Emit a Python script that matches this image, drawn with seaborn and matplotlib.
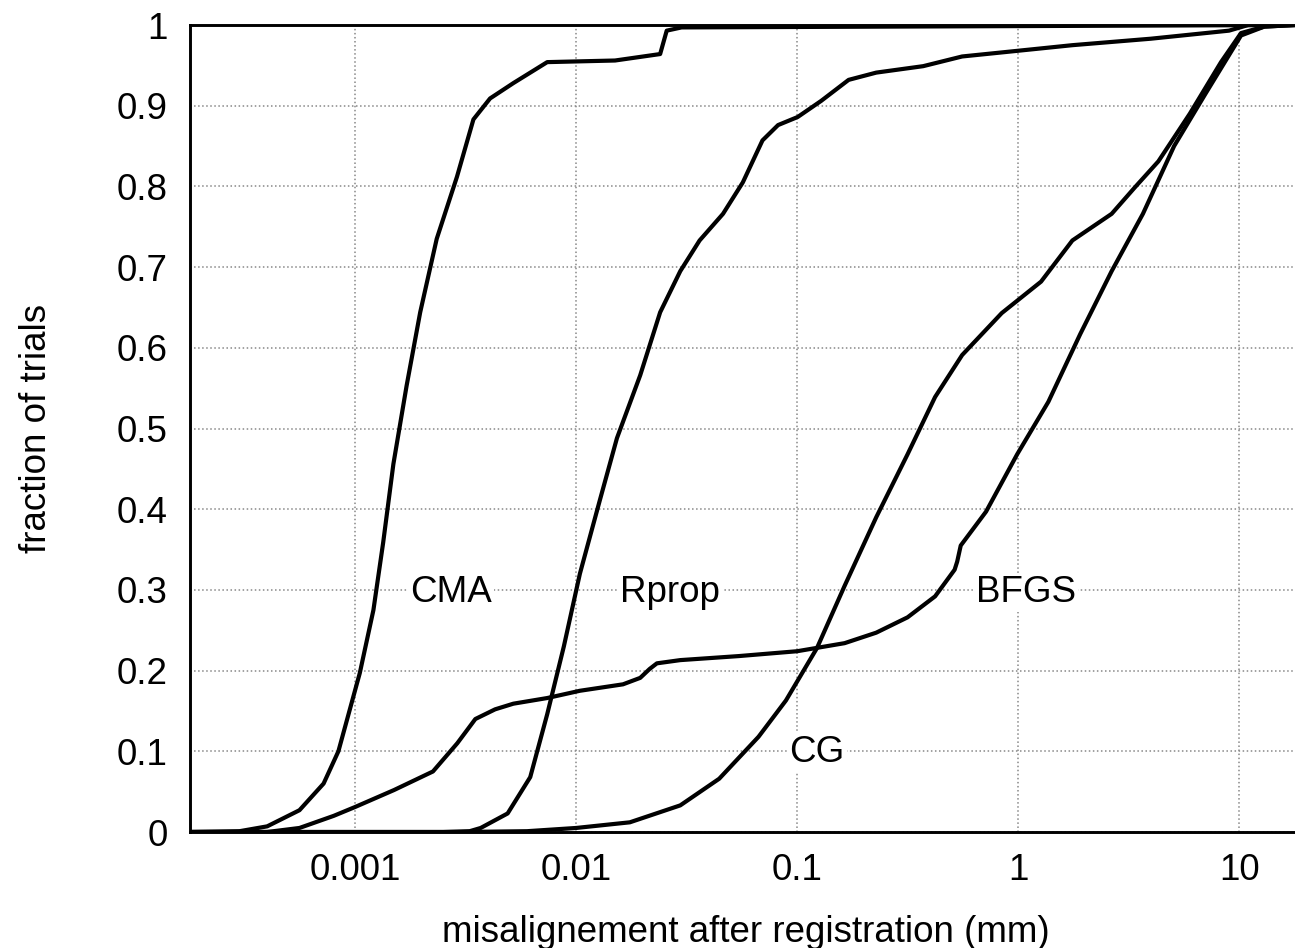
import matplotlib
matplotlib.use("Agg")
import matplotlib.pyplot as plt
import numpy as np
import pandas as pd
import seaborn as sns

# values (x in mm, y = fraction of trials)
cma_x = [0.00018, 0.0003, 0.0004, 0.00056, 0.00072, 0.00084, 0.00105, 0.00121, 0.00134, 0.00149,
         0.00171, 0.00197, 0.00234, 0.00289, 0.00343, 0.00408, 0.0052, 0.0074, 0.015, 0.024,
         0.0257, 0.03, 18]
cma_y = [0, 0.001, 0.007, 0.027, 0.06, 0.1, 0.197, 0.275, 0.359, 0.456,
         0.553, 0.644, 0.735, 0.812, 0.883, 0.909, 0.928, 0.954, 0.956, 0.964,
         0.993, 0.997, 1.0]

rprop_x = [0.00018, 0.0025, 0.0033, 0.0037, 0.0049, 0.0062, 0.0074, 0.0088, 0.0104, 0.0128,
           0.0153, 0.0195, 0.024, 0.0296, 0.0362, 0.0462, 0.0568, 0.0697, 0.082, 0.1006,
           0.1285, 0.171, 0.228, 0.372, 0.558, 1.17, 1.76, 3.98, 9.0, 11, 18]
rprop_y = [0, 0, 0.001, 0.005, 0.023, 0.068, 0.146, 0.23, 0.32, 0.411,
           0.488, 0.566, 0.644, 0.695, 0.733, 0.766, 0.805, 0.857, 0.876, 0.886,
           0.906, 0.932, 0.941, 0.949, 0.961, 0.970, 0.975, 0.983, 0.993, 1.0, 1.0]

bfgs_x = [0.00018, 0.0004, 0.00056, 0.0008, 0.001, 0.0015, 0.00225, 0.0029, 0.0035, 0.0043,
          0.0052, 0.0074, 0.0104, 0.0163, 0.0195, 0.0215, 0.0232, 0.0296, 0.0545, 0.1,
          0.164, 0.228, 0.316, 0.421, 0.516, 0.53, 0.55, 0.716, 0.99, 1.37,
          1.91, 2.65, 3.67, 5.08, 7.05, 10.2, 13, 18]
bfgs_y = [0, 0.0, 0.005, 0.02, 0.031, 0.052, 0.075, 0.11, 0.14, 0.152,
          0.159, 0.166, 0.175, 0.183, 0.191, 0.202, 0.209, 0.213, 0.218, 0.224,
          0.234, 0.247, 0.266, 0.292, 0.325, 0.335, 0.355, 0.397, 0.468, 0.533,
          0.617, 0.695, 0.766, 0.85, 0.915, 0.987, 0.998, 1.0]

cg_x = [0.00018, 0.003, 0.006, 0.01, 0.0175, 0.0296, 0.0444, 0.0669, 0.089, 0.123,
        0.164, 0.228, 0.316, 0.421, 0.558, 0.843, 1.27, 1.76, 2.65, 3.38,
        4.31, 5.98, 8.28, 10.2, 13, 18]
cg_y = [0, 0, 0.001, 0.005, 0.012, 0.033, 0.066, 0.118, 0.163, 0.228,
        0.305, 0.39, 0.468, 0.539, 0.591, 0.643, 0.682, 0.733, 0.766, 0.799,
        0.831, 0.89, 0.954, 0.99, 0.998, 1.0]

curve_labels = ["CMA", "Rprop", "BFGS", "CG"]
label_pos = [(0.00272, 0.297), (0.0266, 0.297), (1.08, 0.297), (0.123, 0.099)]

xticks = [0.001, 0.01, 0.1, 1, 10]
xtick_labels = ["0.001", "0.01", "0.1", "1", "10"]
yticks = [0, 0.1, 0.2, 0.3, 0.4, 0.5, 0.6, 0.7, 0.8, 0.9, 1]
ytick_labels = ["0", "0.1", "0.2", "0.3", "0.4", "0.5", "0.6", "0.7", "0.8", "0.9", "1"]

sns.set_style("white")
plt.rcParams['font.family'] = ['Liberation Sans', 'DejaVu Sans']
plt.rcParams['font.size'] = 26.5
plt.rcParams['text.color'] = 'black'
plt.rcParams['axes.labelcolor'] = 'black'
plt.rcParams['xtick.color'] = 'black'
plt.rcParams['ytick.color'] = 'black'

fig = plt.figure(figsize=(12.95, 9.48), dpi=100)
ax = fig.add_axes([190 / 1295, 1 - 832 / 948, 1 - 190 / 1295, (832 - 25) / 948])

series = [(cma_x, cma_y), (rprop_x, rprop_y), (bfgs_x, bfgs_y), (cg_x, cg_y)]
for name, (xs, ys) in zip(curve_labels, series):
    df = pd.DataFrame({"x": xs, "y": ys})
    sns.lineplot(data=df, x="x", y="y", ax=ax, color="black", linewidth=3.0,
                 sort=False, estimator=None)

ax.set_xscale("log")
ax.set_xlim(1.79e-4, 17.9)
ax.set_ylim(0, 1)
ax.set_xticks(xticks)
ax.set_xticklabels(xtick_labels)
ax.set_yticks(yticks)
ax.set_yticklabels(ytick_labels)
ax.minorticks_off()
ax.tick_params(direction="in", length=11, width=2.0, color="black", labelsize=26.5)
ax.tick_params(axis="x", pad=15)
ax.tick_params(axis="y", pad=16)

ax.grid(True, linestyle=":", color="#888888", linewidth=1.1)
ax.set_axisbelow(True)
for side in ["top", "left", "bottom"]:
    ax.spines[side].set_color("black")
    ax.spines[side].set_linewidth(2.1)
ax.spines["right"].set_visible(False)

for name, (lx, ly) in zip(curve_labels, label_pos):
    ax.text(lx, ly, name, ha="center", va="center", fontsize=26.5, color="black",
            bbox=dict(facecolor="white", edgecolor="none", pad=1.5))

ax.set_xlabel("misalignement after registration (mm)", fontsize=26.5, va="baseline")
ax.xaxis.set_label_coords(0.503, -0.1363)
ax.set_ylabel("fraction of trials", fontsize=26.5, va="baseline", ha="center",
              rotation_mode="anchor")
ax.yaxis.set_label_coords(-0.1303, 0.5)

plt.savefig("out.png", dpi=100)
